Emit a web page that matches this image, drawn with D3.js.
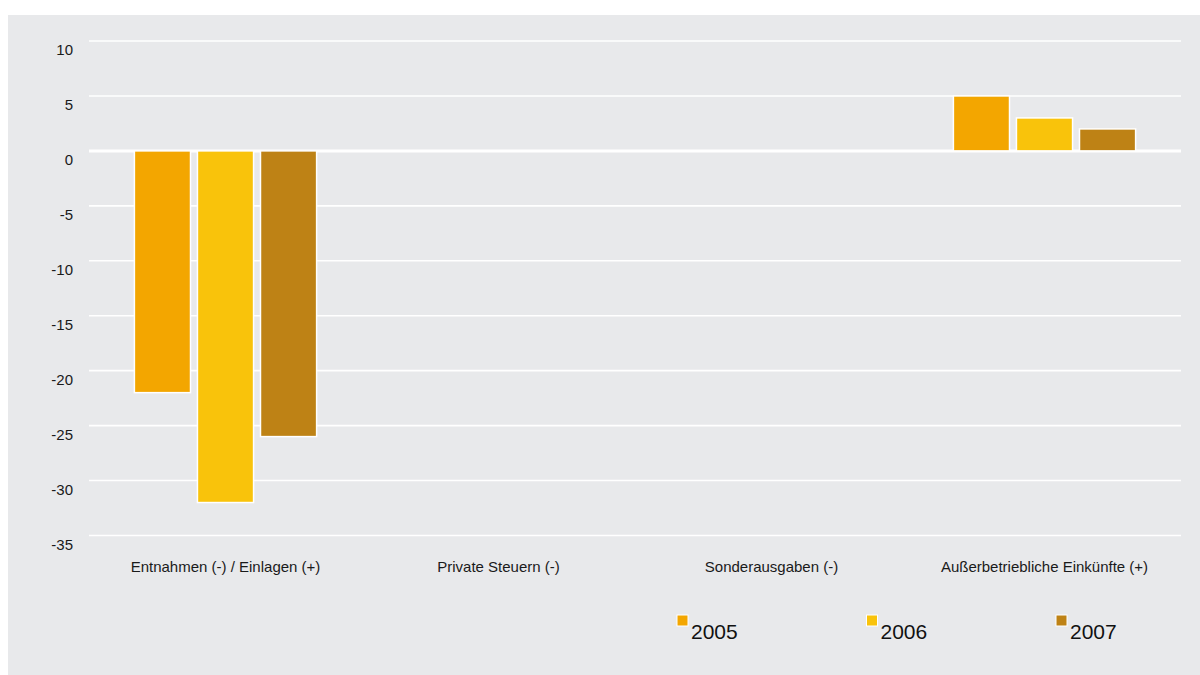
<!DOCTYPE html>
<html>
<head>
<meta charset="utf-8">
<script src="https://cdn.jsdelivr.net/npm/d3@7"></script>
<style>
  body { margin: 0; background: #ffffff; }
  svg { display: block; font-family: "Liberation Sans", Arial, sans-serif; }
</style>
</head>
<body>
<div id="chart"></div>
<script>
// data
var categories = ["Entnahmen (-) / Einlagen (+)", "Private Steuern (-)", "Sonderausgaben (-)", "Außerbetriebliche Einkünfte (+)"];
var years = ["2005", "2006", "2007"];
var values2005 = [-22, 0, 0, 5];
var values2006 = [-32, 0, 0, 3];
var values2007 = [-26, 0, 0, 2];
var yTicks = [10, 5, 0, -5, -10, -15, -20, -25, -30, -35];
var colors = ["#F3A600", "#F9C30B", "#BE8215"];

var width = 1200, height = 675;
var margin = { top: 41, right: 19, bottom: 140, left: 89 };

var svg = d3.select("#chart").append("svg")
    .attr("width", width)
    .attr("height", height);

// panel background
svg.append("rect")
    .attr("x", 8).attr("y", 15)
    .attr("width", width - 8).attr("height", height - 15)
    .attr("fill", "#E8E9EB");

var x = d3.scaleBand()
    .domain(categories)
    .range([margin.left, width - margin.right]);

var xInner = d3.scaleBand()
    .domain(years)
    .range([0, x.bandwidth()])
    .paddingOuter(0.72)
    .paddingInner(0.11);

var y = d3.scaleLinear()
    .domain([-35, 10])
    .range([535.5, 41]);

// gridlines
svg.append("g").selectAll("line")
    .data(yTicks)
    .enter().append("line")
    .attr("x1", margin.left)
    .attr("x2", width - margin.right)
    .attr("y1", function(d) { return y(d); })
    .attr("y2", function(d) { return y(d); })
    .attr("stroke", "#ffffff")
    .attr("stroke-width", function(d) { return d === 0 ? 3 : 1.6; });

// y labels
svg.append("g").selectAll("text")
    .data(yTicks)
    .enter().append("text")
    .attr("x", 73)
    .attr("y", function(d) { return y(d) + 14; })
    .attr("text-anchor", "end")
    .attr("font-size", 15)
    .attr("fill", "#1a1a1a")
    .text(function(d) { return d; });

// bars
var series = [values2005, values2006, values2007];
var bars = [];
categories.forEach(function(c, i) {
    years.forEach(function(yr, j) {
        bars.push({ cat: c, year: yr, value: series[j][i], color: colors[j] });
    });
});

svg.append("g").selectAll("rect")
    .data(bars.filter(function(d) { return d.value !== 0; }))
    .enter().append("rect")
    .attr("x", function(d) { return x(d.cat) + xInner(d.year); })
    .attr("width", xInner.bandwidth())
    .attr("y", function(d) { return y(Math.max(0, d.value)); })
    .attr("height", function(d) { return Math.abs(y(d.value) - y(0)); })
    .attr("fill", function(d) { return d.color; })
    .attr("stroke", "#ffffff")
    .attr("stroke-width", 1.5);

// category labels
svg.append("g").selectAll("text")
    .data(categories)
    .enter().append("text")
    .attr("x", function(d) { return x(d) + x.bandwidth() / 2; })
    .attr("y", 572)
    .attr("text-anchor", "middle")
    .attr("font-size", 15)
    .attr("fill", "#1a1a1a")
    .text(function(d) { return d; });

// legend
var legend = svg.append("g").selectAll("g")
    .data(years)
    .enter().append("g")
    .attr("transform", function(d, i) { return "translate(" + (677 + i * 189.5) + ",615)"; });

legend.append("rect")
    .attr("width", 11).attr("height", 11)
    .attr("fill", function(d, i) { return colors[i]; })
    .attr("stroke", "#ffffff")
    .attr("stroke-width", 1);

legend.append("text")
    .attr("x", 14)
    .attr("y", 24)
    .attr("font-size", 21)
    .attr("fill", "#111")
    .text(function(d) { return d; });
</script>
</body>
</html>
